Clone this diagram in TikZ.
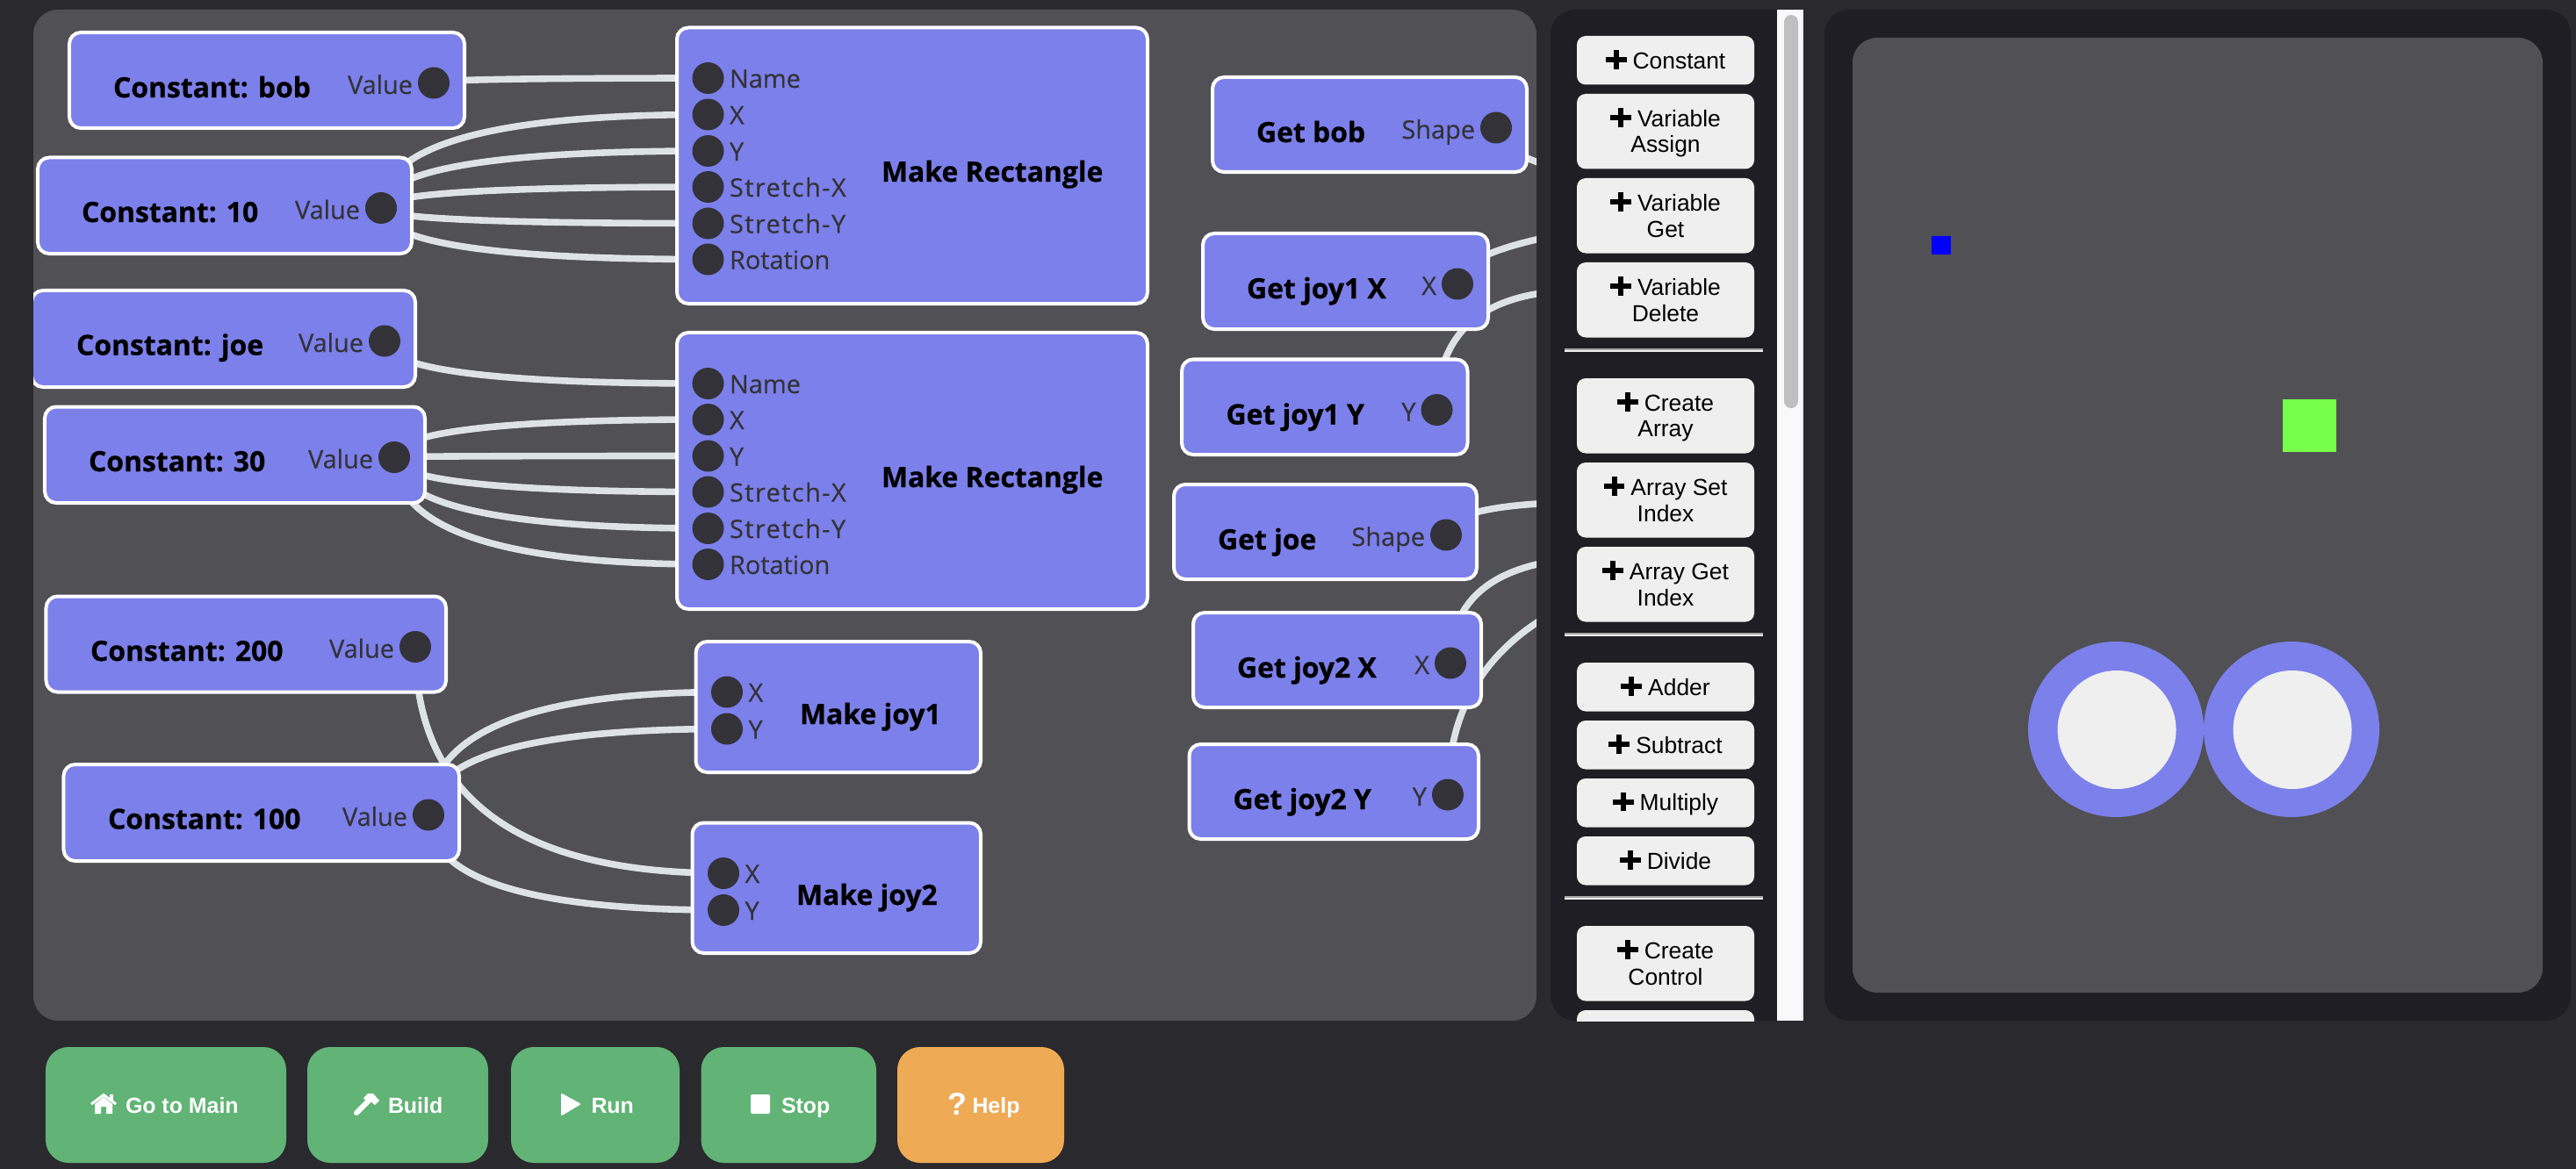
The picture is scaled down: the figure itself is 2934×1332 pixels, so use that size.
\documentclass[tikz,border=0pt]{standalone}
\usepackage{fontspec}
\setmainfont{Open Sans}
\newfontfamily\arialf{Liberation Sans}
\newfontfamily\titlef[BoldFeatures={FakeBold=0.6}]{Open Sans}
\newfontfamily\labelf[FakeBold=0.35]{Open Sans}
\usetikzlibrary{calc}
\definecolor{pagebg}{HTML}{2A292E}
\definecolor{canvasc}{HTML}{505055}
\definecolor{sidec}{HTML}{1F1E24}
\definecolor{blockc}{HTML}{7C80EA}
\definecolor{portc}{HTML}{333238}
\definecolor{wirec}{HTML}{DDE2E6}
\definecolor{btnc}{HTML}{EFEFEF}
\definecolor{greenb}{HTML}{61B376}
\definecolor{orangeb}{HTML}{EFAA56}
\definecolor{limec}{HTML}{78FF4C}
\pgfdeclarelayer{panels}
\pgfdeclarelayer{wires}
\pgfsetlayers{panels,wires,main}
\tikzset{
  blockbox/.style={rectangle,draw=white,line width=2bp,fill=blockc,rounded corners=6.5bp,inner sep=0pt,outer sep=0pt},
  sidebtn/.style={rectangle,fill=btnc,rounded corners=5bp,inner sep=0pt,outer sep=0pt,align=center,text=black,font={\arialf\fontsize{13.25}{15}\selectfont}},
  actbtn/.style={rectangle,rounded corners=13bp,inner sep=0pt,outer sep=0pt},
  titletext/.style={inner sep=0pt,outer sep=0pt,anchor=base west,text=black,font={\titlef\fontsize{16}{19}\selectfont\bfseries}},
  porttext/.style={inner sep=0pt,outer sep=0pt,text=portc,font={\labelf\fontsize{14.5}{17}\selectfont}},
  actiontext/.style={inner sep=0pt,outer sep=0pt,anchor=base west,text=white,font={\arialf\fontsize{12.5}{15}\selectfont\bfseries}},
  portdot/.style={circle,fill=portc,minimum size=18bp,inner sep=0pt,outer sep=0pt},
  wireline/.style={draw=wirec,line width=3.8bp},
  icon/.style={fill=white,draw=white,line join=round},
}
\newcommand{\bstrut}{\rule[-2pt]{0pt}{14pt}}
\newcommand{\plusicon}{\bstrut\raisebox{-0.25pt}{\rlap{\rule[4pt]{12pt}{3pt}}\hspace{4.5pt}\rule{3pt}{11pt}\hspace{4.5pt}}\hspace{3.5pt}}
\newcommand{\wideS}[1]{{\addfontfeature{LetterSpace=5}#1}}
% style, name, x1,y1,x2,y2, text, inset in bp
\newcommand{\pbox}[8]{%
  \pgfmathsetmacro\cxx{(#3+#5)/2}\pgfmathsetmacro\cyy{(#4+#6)/2}%
  \pgfmathsetmacro\www{(#5-#3)*0.5-#8}\pgfmathsetmacro\hhh{(#6-#4)*0.5-#8}%
  \node[#1,minimum width=\www bp,minimum height=\hhh bp] (#2) at (\cxx,\cyy) {#7};}
\newcommand{\blk}[5]{\pbox{blockbox}{#1}{#2}{#3}{#4}{#5}{}{2}}
\newcommand{\sbtn}[4]{\pbox{sidebtn}{#1}{1796}{#2}{1998}{#3}{#4}{0}}
\newcommand{\outport}[3]{%
  \node[portdot] (#1) at ([xshift=-17.5bp,yshift=-28.75bp]#2.north east) {};
  \node[porttext,anchor=base east] (#1l) at ([xshift=-12bp,yshift=-6.25bp]#1.center) {#3};}
\newcommand{\inport}[4]{%
  \node[portdot] (#1) at (#2,#3) {};
  \node[porttext,anchor=base west] (#1l) at ([xshift=12.25bp,yshift=-5.5bp]#1.center) {#4};}
\newcommand{\wire}[2]{\draw[wireline] (#1.center) .. controls ($(#1.center)!0.6667!(#1.center|-#2)$) and ($(#2)!0.6667!(#1.center|-#2)$) .. (#2);}
\begin{document}
\begin{tikzpicture}[x=0.5bp,y=-0.5bp]
\useasboundingbox (0,0) rectangle (2934,1332);
\begin{pgfonlayer}{panels}
  \fill[pagebg] (0,0) rectangle (2934,1332);
  \fill[canvasc,rounded corners=14bp] (38,11) rectangle (1750,1163);
  \fill[sidec,rounded corners=14bp] (1766,11) rectangle (2054,1163);
  \fill[sidec,rounded corners=14bp] (2078,11) rectangle (2928,1163);
  \fill[canvasc,rounded corners=14bp] (2110,43) rectangle (2896,1131);
\end{pgfonlayer}
% preview
\fill[blue] (2200,269) rectangle (2222,290);
\fill[limec] (2600,455) rectangle (2661,515);
\node[circle,fill=blockc,minimum size=100bp,inner sep=0pt] (joyA) at (2410,831) {};
\node[circle,fill=btnc,minimum size=67.5bp,inner sep=0pt] (joyAk) at (2411,831.5) {};
\node[circle,fill=blockc,minimum size=100bp,inner sep=0pt] (joyB) at (2610,831) {};
\node[circle,fill=btnc,minimum size=67.5bp,inner sep=0pt] (joyBk) at (2611,831.5) {};
% canvas blocks
\begin{scope}
\clip[rounded corners=14bp] (38,11) rectangle (1750,1163);
\blk{cbob}{77}{35}{531}{148}
\blk{cten}{41}{177.5}{471}{291}
\blk{cjoe}{34}{329}{475}{443}
\blk{cthirty}{49}{461.5}{486}{575}
\blk{ctwohundred}{50.5}{677.5}{510}{790.5}
\blk{chundred}{70.5}{869}{525}{983}
\blk{rectA}{769}{29.5}{1309}{348}
\blk{rectB}{769}{377}{1309}{696}
\blk{joyone}{790.5}{729}{1119}{882}
\blk{joytwo}{786.5}{935.5}{1119}{1088}
\blk{gbob}{1379}{86}{1741}{198}
\blk{gjax}{1368}{264}{1697}{377}
\blk{gjay}{1344}{407.5}{1673.5}{520}
\blk{gjoe}{1335}{550}{1684}{662}
\blk{gjbx}{1357}{696}{1689}{808}
\blk{gjby}{1352.5}{846}{1686}{958}
\node[titletext] (tcbob) at (129,111) {Constant: bob};
\node[titletext] (tcten) at (93,253) {Constant: 10};
\node[titletext] (tcjoe) at (87,404.5) {Constant: joe};
\node[titletext] (tcthirty) at (101,537) {Constant: 30};
\node[titletext] (tctwo) at (103,753) {Constant: 200};
\node[titletext] (tchun) at (123,944.5) {Constant: 100};
\node[titletext] (trectA) at (1004,207) {Make Rectangle};
\node[titletext] (trectB) at (1004,555) {Make Rectangle};
\node[titletext] (tjoyone) at (911,825) {Make joy1};
\node[titletext] (tjoytwo) at (907,1031) {Make joy2};
\node[titletext] (tgbob) at (1431,162) {Get bob};
\node[titletext] (tgjax) at (1420,340) {Get joy1 X};
\node[titletext] (tgjay) at (1396.5,483.5) {Get joy1 Y};
\node[titletext] (tgjoe) at (1387,626) {Get joe};
\node[titletext] (tgjbx) at (1409,772) {Get joy2 X};
\node[titletext] (tgjby) at (1404.5,922) {Get joy2 Y};
\outport{pbob}{cbob}{Value}
\outport{pten}{cten}{Value}
\outport{pjoe}{cjoe}{Value}
\outport{pthirty}{cthirty}{Value}
\outport{ptwo}{ctwohundred}{Value}
\outport{phun}{chundred}{Value}
\outport{pgbob}{gbob}{Shape}
\outport{pgjax}{gjax}{X}
\outport{pgjay}{gjay}{Y}
\outport{pgjoe}{gjoe}{Shape}
\outport{pgjbx}{gjbx}{X}
\outport{pgjby}{gjby}{Y}
\inport{raN}{806.5}{89}{Name}
\inport{raX}{806.5}{130.5}{X}
\inport{raY}{806.5}{172}{Y}
\inport{raSX}{806.5}{213}{\wideS{Stretch-X}}
\inport{raSY}{806.5}{254.5}{\wideS{Stretch-Y}}
\inport{raR}{806.5}{295.5}{Rotation}
\inport{rbN}{806.5}{437}{Name}
\inport{rbX}{806.5}{478}{X}
\inport{rbY}{806.5}{519.5}{Y}
\inport{rbSX}{806.5}{560.5}{\wideS{Stretch-X}}
\inport{rbSY}{806.5}{602}{\wideS{Stretch-Y}}
\inport{rbR}{806.5}{643}{Rotation}
\inport{jaX}{828}{788.5}{X}
\inport{jaY}{828}{830.5}{Y}
\inport{jbX}{824}{995}{X}
\inport{jbY}{824}{1037}{Y}
\end{scope}
% wires
\coordinate (oBob) at (2704,247);
\coordinate (oJax) at (2598,227);
\coordinate (oJay) at (1801,331);
\coordinate (oJoe) at (1824,572);
\coordinate (oJbx) at (1834,634.5);
\coordinate (oJby) at (2088,637);
\begin{pgfonlayer}{wires}
\begin{scope}
\clip[rounded corners=14bp] (38,11) rectangle (1750,1163);
\wire{pbob}{raN.center}
\wire{pten}{raX.center}
\wire{pten}{raY.center}
\wire{pten}{raSX.center}
\wire{pten}{raSY.center}
\wire{pten}{raR.center}
\wire{pjoe}{rbN.center}
\wire{pthirty}{rbX.center}
\wire{pthirty}{rbY.center}
\wire{pthirty}{rbSX.center}
\wire{pthirty}{rbSY.center}
\wire{pthirty}{rbR.center}
\wire{phun}{jaX.center}
\wire{phun}{jaY.center}
\wire{ptwo}{jbX.center}
\wire{phun}{jbY.center}
\wire{pgbob}{oBob}
\wire{pgjax}{oJax}
\wire{pgjay}{oJay}
\wire{pgjoe}{oJoe}
\wire{pgjbx}{oJbx}
\wire{pgjby}{oJby}
\end{scope}
\end{pgfonlayer}
% sidebar
\fill[white!97.5!black] (2024,11) rectangle (2054,1163);
\fill[btnc] (2052,11) rectangle (2054,1163);
\fill[black!25,rounded corners=4bp] (2032,17) rectangle (2048,465);
\begin{scope}
\clip (1766,11) rectangle (2024,1163);
\sbtn{bConst}{41}{96.5}{\plusicon Constant}
\sbtn{bAssign}{107}{192.5}{\plusicon Variable\\\bstrut Assign}
\sbtn{bGet}{203}{288.5}{\plusicon Variable\\\bstrut Get}
\sbtn{bDel}{299}{384.5}{\plusicon Variable\\\bstrut Delete}
\sbtn{bCreate}{431}{516.5}{\plusicon Create\\\bstrut Array}
\sbtn{bSet}{527}{612.5}{\plusicon Array Set\\\bstrut Index}
\sbtn{bAGet}{623}{708.5}{\plusicon Array Get\\\bstrut Index}
\sbtn{bAdd}{755}{810.5}{\plusicon Adder}
\sbtn{bSub}{821}{876.5}{\plusicon Subtract}
\sbtn{bMul}{887}{942.5}{\plusicon Multiply}
\sbtn{bDiv}{953}{1008.5}{\plusicon Divide}
\sbtn{bCtl}{1055}{1140.5}{\plusicon Create\\\bstrut Control}
\sbtn{bNext}{1151}{1236}{}
\end{scope}
\foreach \yy in {397,721,1021}{
  \fill[black!35] (1782,\yy) rectangle (2008,\yy+2);
  \fill[btnc] (1782,\yy+2) rectangle (2008,\yy+4);
}
% action buttons
\pbox{actbtn,fill=greenb}{aMain}{52}{1193}{326}{1325}{}{0}
\pbox{actbtn,fill=greenb}{aBuild}{350}{1193}{556}{1325}{}{0}
\pbox{actbtn,fill=greenb}{aRun}{582}{1193}{774}{1325}{}{0}
\pbox{actbtn,fill=greenb}{aStop}{798.5}{1193}{998}{1325}{}{0}
\pbox{actbtn,fill=orangeb}{aHelp}{1022}{1193}{1212}{1325}{}{0}
\node[actiontext] (lMain) at (143,1268) {Go to Main};
\node[actiontext] (lBuild) at (442,1268) {Build};
\node[actiontext] (lRun) at (673.5,1268) {Run};
\node[actiontext] (lStop) at (890,1268) {Stop};
\node[actiontext] (lHelp) at (1107.5,1268) {Help};
\node[inner sep=0pt,outer sep=0pt,anchor=base,text=white,font={\arialf\fontsize{18}{20}\selectfont\bfseries}] (lQ) at (1090.5,1270) {?};
% icons
\fill[white] (108,1258) -- (118,1250) -- (128,1258) -- (128,1269) -- (121,1269) -- (121,1261) -- (115,1261) -- (115,1269) -- (108,1269) -- cycle;
\draw[white,line width=1.5bp,line join=miter] (104,1258) -- (118,1247.5) -- (132,1258);
\fill[white] (125,1247) rectangle (129,1254);
\draw[white,line width=3bp,line cap=round] (406,1268) -- (420,1254);
\fill[white] (414,1251) -- (419,1246) -- (425,1246) -- (432,1254) -- (427,1259) -- (422,1255) -- (419,1257) -- cycle;
\draw[icon,line width=1bp] (640,1247) -- (660,1258) -- (640,1270) -- cycle;
\fill[white,rounded corners=1bp] (855,1247) rectangle (877,1269);
\end{tikzpicture}
\end{document}
